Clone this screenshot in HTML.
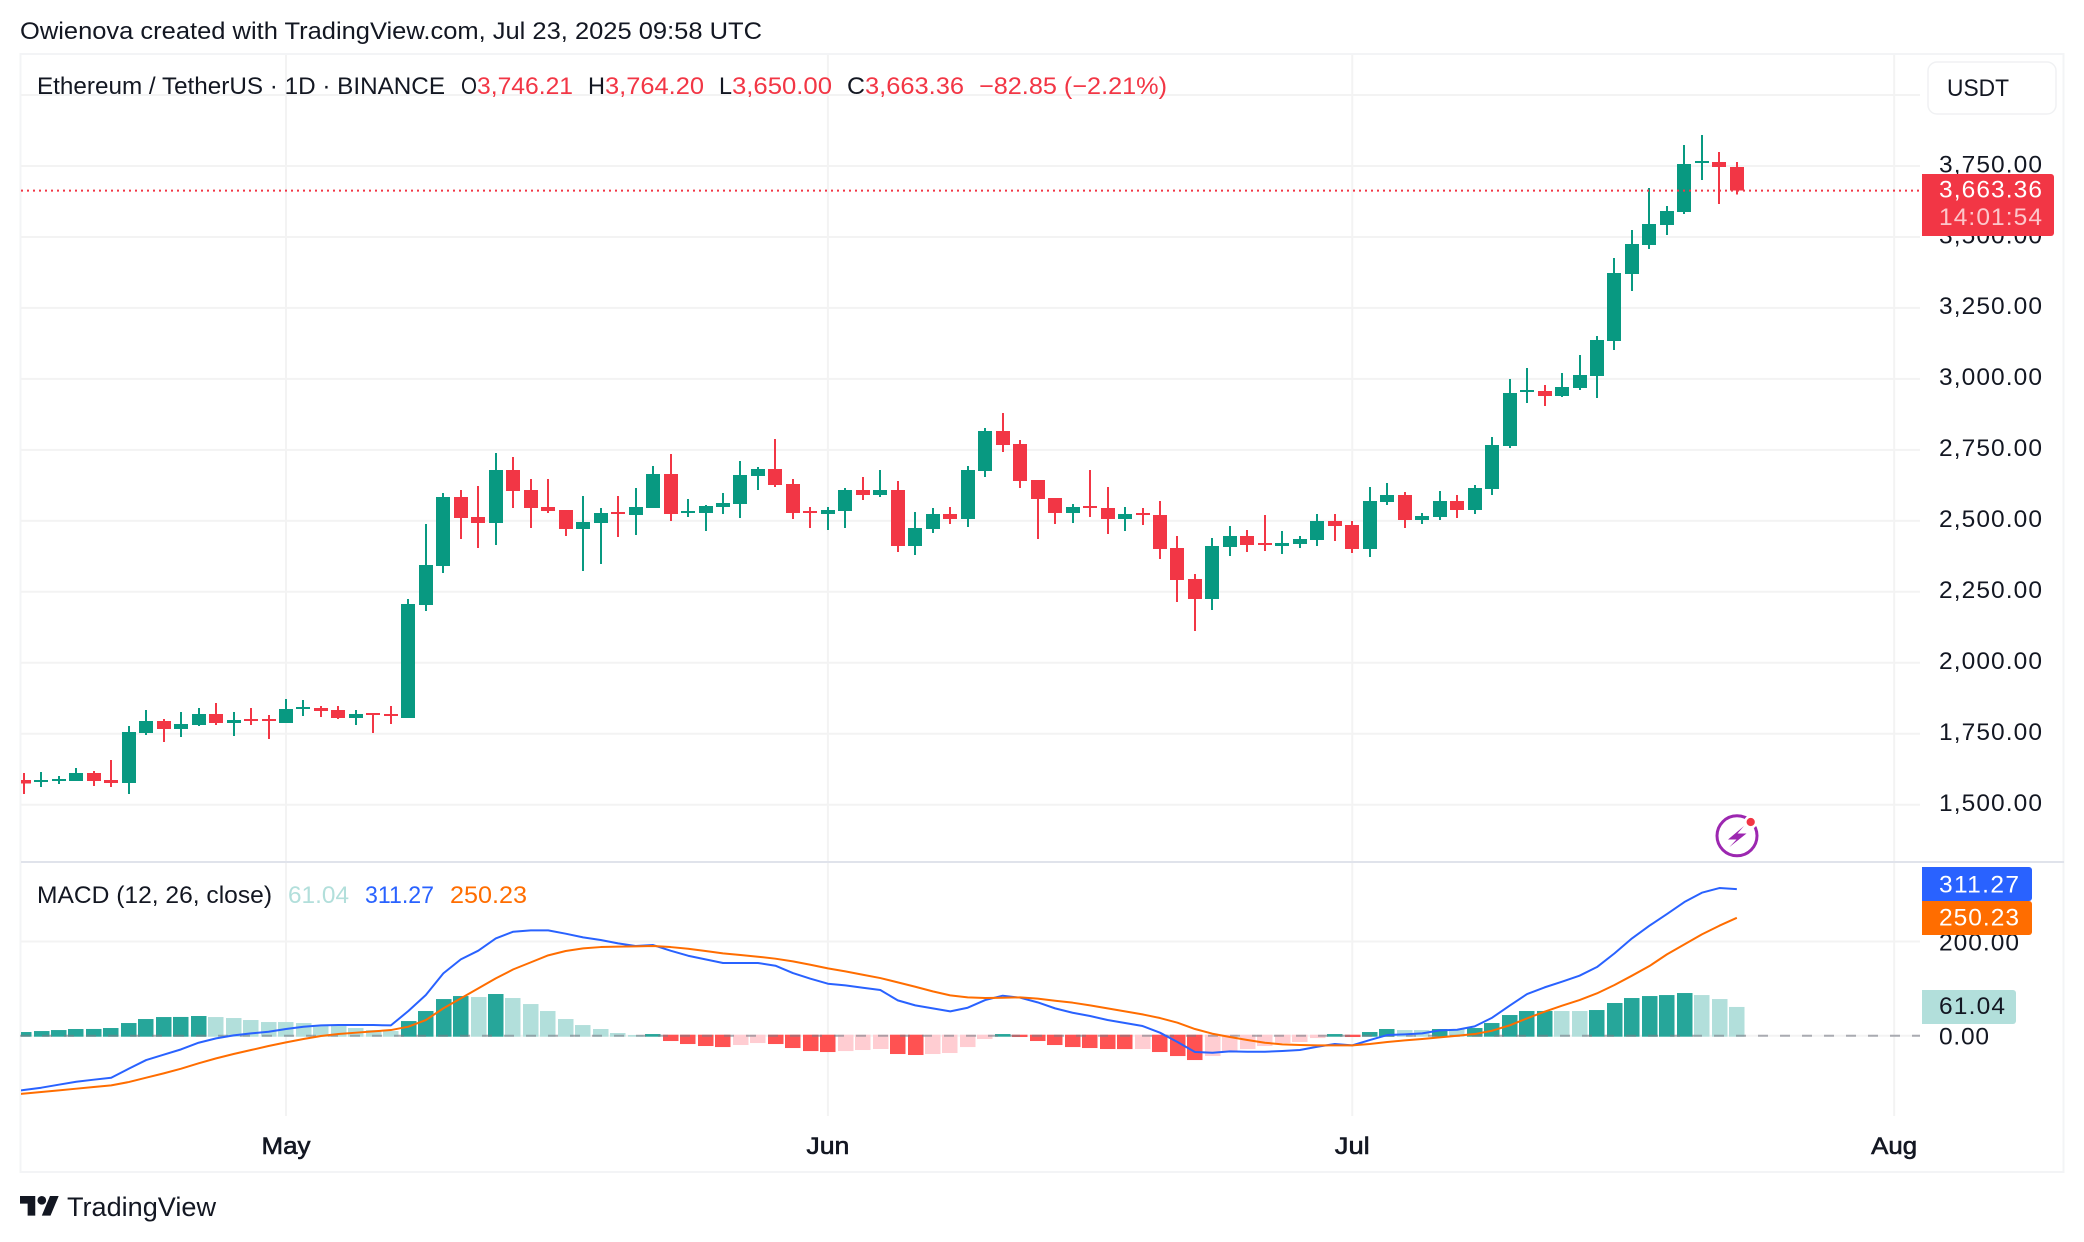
<!DOCTYPE html>
<html lang="en">
<head>
<meta charset="utf-8">
<title>ETH/USDT chart</title>
<style>
html,body{margin:0;padding:0;background:#fff;width:2084px;height:1242px;overflow:hidden}
svg{display:block}
text{font-family:"Liberation Sans",sans-serif;fill:#131722}
</style>
</head>
<body>
<svg id="chart" xmlns="http://www.w3.org/2000/svg" width="2084" height="1242" viewBox="0 0 2084 1242">
  <defs>
    <clipPath id="price-clip"><rect x="21" y="55" width="1899" height="806"/></clipPath>
    <clipPath id="macd-clip"><rect x="21" y="863" width="1899" height="252"/></clipPath>
  </defs>
  <rect x="0" y="0" width="2084" height="1242" fill="#ffffff"/>
  <text x="20" y="39" font-size="24.5" textLength="742" lengthAdjust="spacingAndGlyphs">Owienova created with TradingView.com, Jul 23, 2025 09:58 UTC</text>
  <rect x="20.5" y="54" width="2043" height="1118" fill="none" stroke="#f3f4f6" stroke-width="2"/>
  <g id="grid"></g>
  <rect x="21" y="861" width="2043" height="2" fill="#e0e3eb"/>
  <g id="candles" clip-path="url(#price-clip)"></g>
  <g id="price-line"></g>
  <g id="histogram" clip-path="url(#macd-clip)"></g>
  <g id="zero-line"></g>
  <g id="macd-lines" clip-path="url(#macd-clip)"></g>
  <g id="price-axis"></g>
  <g id="macd-axis"></g>
  <g id="time-axis"></g>

  <g font-size="24">
    <text x="37" y="94" textLength="408" lengthAdjust="spacingAndGlyphs">Ethereum / TetherUS · 1D · BINANCE</text>
    <text x="461" y="94" textLength="16" lengthAdjust="spacingAndGlyphs">O</text>
    <text x="477" y="94" textLength="96" lengthAdjust="spacingAndGlyphs" style="fill:#f23645">3,746.21</text>
    <text x="588" y="94" textLength="17" lengthAdjust="spacingAndGlyphs">H</text>
    <text x="605" y="94" textLength="99" lengthAdjust="spacingAndGlyphs" style="fill:#f23645">3,764.20</text>
    <text x="719" y="94" textLength="13" lengthAdjust="spacingAndGlyphs">L</text>
    <text x="732" y="94" textLength="100" lengthAdjust="spacingAndGlyphs" style="fill:#f23645">3,650.00</text>
    <text x="847" y="94" textLength="18" lengthAdjust="spacingAndGlyphs">C</text>
    <text x="865" y="94" textLength="99" lengthAdjust="spacingAndGlyphs" style="fill:#f23645">3,663.36</text>
    <text x="979" y="94" textLength="188" lengthAdjust="spacingAndGlyphs" style="fill:#f23645">−82.85 (−2.21%)</text>
  </g>

  <g>
    <rect x="1928" y="62" width="128" height="52" rx="9" fill="#ffffff" stroke="#f0f1f3" stroke-width="1.5"/>
    <text x="1947" y="96" font-size="24" textLength="62" lengthAdjust="spacingAndGlyphs">USDT</text>
  </g>

  <g font-size="24">
    <text x="37" y="903" textLength="235" lengthAdjust="spacingAndGlyphs">MACD (12, 26, close)</text>
    <text x="288" y="903" textLength="61" lengthAdjust="spacingAndGlyphs" style="fill:#b2dfdb">61.04</text>
    <text x="365" y="903" textLength="69" lengthAdjust="spacingAndGlyphs" style="fill:#2962ff">311.27</text>
    <text x="450" y="903" textLength="77" lengthAdjust="spacingAndGlyphs" style="fill:#ff6d00">250.23</text>
  </g>

  <g>
    <path d="M1922 174H2051a3 3 0 0 1 3 3V233a3 3 0 0 1-3 3H1922Z" fill="#f23645"/>
    <text x="1939" y="197.5" font-size="24.5" textLength="103" style="fill:#ffffff">3,663.36</text>
    <text x="1939" y="225" font-size="24.5" textLength="103" style="fill:#ffffff;fill-opacity:.72">14:01:54</text>
  </g>
  <g>
    <path d="M1922 867H2029a3 3 0 0 1 3 3V898a3 3 0 0 1-3 3H1922Z" fill="#2962ff"/>
    <text x="1939" y="892.7" font-size="24.5" textLength="80" style="fill:#ffffff">311.27</text>
    <path d="M1922 901H2029a3 3 0 0 1 3 3V932a3 3 0 0 1-3 3H1922Z" fill="#ff6d00"/>
    <text x="1939" y="925.7" font-size="24.5" textLength="80" style="fill:#ffffff">250.23</text>
    <path d="M1922 990H2013a3 3 0 0 1 3 3V1021a3 3 0 0 1-3 3H1922Z" fill="#b2dfdb"/>
    <text x="1939" y="1014" font-size="24.5" textLength="66">61.04</text>
  </g>

  <g>
    <circle cx="1737" cy="835.8" r="20" fill="#ffffff" stroke="#9c27b0" stroke-width="3"/>
    <path d="M1744 826L1728 839.5H1736.5L1729.5 847L1746.5 833.5H1737.5Z" fill="#9c27b0"/>
    <circle cx="1750.7" cy="822" r="5.4" fill="#f23645" stroke="#ffffff" stroke-width="2.5"/>
  </g>

  <g>
    <g transform="translate(20 1191.6) scale(1.09)" fill="#131722">
      <path d="M14 22H7V11H0V4h14v18zM28 22h-8l7.5-18h8L28 22z"/>
      <circle cx="20" cy="8" r="4"/>
    </g>
    <text x="67" y="1216" font-size="26.5" textLength="149" lengthAdjust="spacingAndGlyphs">TradingView</text>
  </g>
</svg>

<script>
const candleDates = [
'Apr 16','Apr 17','Apr 18','Apr 19','Apr 20','Apr 21','Apr 22','Apr 23','Apr 24','Apr 25','Apr 26','Apr 27','Apr 28','Apr 29','Apr 30',
'May 1','May 2','May 3','May 4','May 5','May 6','May 7','May 8','May 9','May 10','May 11','May 12','May 13','May 14','May 15','May 16','May 17','May 18','May 19','May 20','May 21','May 22','May 23','May 24','May 25','May 26','May 27','May 28','May 29','May 30','May 31',
'Jun 1','Jun 2','Jun 3','Jun 4','Jun 5','Jun 6','Jun 7','Jun 8','Jun 9','Jun 10','Jun 11','Jun 12','Jun 13','Jun 14','Jun 15','Jun 16','Jun 17','Jun 18','Jun 19','Jun 20','Jun 21','Jun 22','Jun 23','Jun 24','Jun 25','Jun 26','Jun 27','Jun 28','Jun 29','Jun 30',
'Jul 1','Jul 2','Jul 3','Jul 4','Jul 5','Jul 6','Jul 7','Jul 8','Jul 9','Jul 10','Jul 11','Jul 12','Jul 13','Jul 14','Jul 15','Jul 16','Jul 17','Jul 18','Jul 19','Jul 20','Jul 21','Jul 22','Jul 23'];

const opens = [1587,1580,1583,1583,1612,1587,1576,1753,1795,1767,1781,1820,1788,1802,1802,
1788,1837,1841,1834,1805,1823,1820,1805,2203,2341,2584,2513,2492,2679,2609,2549,2538,2471,2492,2531,2521,2545,2665,2528,2528,2549,2559,2658,2683,2630,2535,
2524,2535,2609,2591,2609,2411,2471,2524,2506,2676,2816,2771,2644,2580,2528,2552,2545,2506,2528,2521,2404,2295,2225,2408,2447,2422,2411,2418,2432,2499,
2485,2401,2566,2591,2503,2513,2570,2538,2612,2764,2954,2957,2940,2968,3010,3134,3370,3472,3542,3588,3762,3764,3746.21];

const highs = [1612,1615,1601,1629,1619,1657,1777,1834,1802,1827,1841,1858,1827,1841,1816,
1872,1869,1848,1848,1834,1823,1848,2225,2489,2598,2609,2623,2739,2725,2647,2647,2538,2587,2545,2587,2616,2693,2735,2577,2556,2598,2711,2690,2788,2647,2549,
2549,2616,2654,2679,2640,2531,2545,2549,2693,2827,2880,2785,2644,2580,2559,2679,2619,2549,2545,2570,2447,2313,2440,2482,2468,2521,2464,2447,2524,2524,
2499,2619,2633,2601,2527,2605,2591,2626,2795,3000,3038,2979,3021,3084,3151,3426,3525,3672,3609,3824,3859,3799,3764.20];

const lows = [1538,1562,1573,1583,1566,1562,1538,1745,1721,1738,1777,1781,1742,1781,1731,
1788,1812,1809,1802,1781,1753,1784,1805,2182,2316,2436,2404,2415,2545,2475,2528,2447,2323,2348,2443,2450,2545,2499,2513,2464,2524,2510,2609,2619,2506,2475,
2468,2475,2573,2584,2390,2380,2457,2489,2478,2654,2743,2616,2436,2489,2492,2514,2454,2464,2485,2366,2214,2112,2186,2376,2390,2394,2383,2404,2411,2429,
2387,2373,2556,2475,2489,2503,2510,2524,2591,2757,2915,2905,2936,2961,2933,3102,3310,3458,3507,3581,3701,3616,3650.00];

const closes = [1574,1587,1591,1612,1583,1576,1756,1795,1767,1784,1820,1788,1798,1795,1795,
1837,1844,1830,1805,1820,1816,1812,2207,2344,2584,2510,2492,2679,2605,2545,2535,2471,2496,2528,2524,2549,2665,2524,2535,2552,2563,2661,2683,2626,2528,2528,
2538,2609,2591,2609,2411,2475,2524,2506,2679,2816,2767,2640,2577,2528,2549,2545,2506,2524,2521,2401,2292,2225,2411,2447,2415,2415,2422,2436,2499,2482,
2401,2570,2591,2503,2517,2570,2538,2616,2767,2950,2961,2940,2971,3014,3137,3373,3475,3546,3591,3757,3768,3746.21,3663.36];

const histValues = [7.8,9.9,12,14.2,14.3,16.3,26.9,35.4,39.6,39.8,41.8,39.6,37.5,33.3,29,
29,26.9,22.6,22.6,16.3,12,9.9,31.1,52.4,77.8,84.2,82.1,88.5,80,67.2,52.4,35.4,22.6,14.2,5.7,1.4,3.5,-11.3,-17.7,-21.9,-24.1,-19.8,-15.6,-17.7,-26.2,-32.6,
-34.7,-32.6,-30.4,-28.3,-38.9,-41,-38.9,-36.8,-24.1,-7.1,3.5,-2.8,-11.3,-19.8,-24.1,-26.2,-28.3,-28.4,-28.3,-34.7,-43.2,-51.7,-43.2,-34.7,-28.3,-21.9,-15.6,-13.4,-5,3.5,
-2.8,7.8,14.2,12,12,14.2,14.2,16.3,26.9,43.9,52.4,52.5,52.4,52.4,54.5,69.4,80,84.2,86.3,90.6,86.3,77.8,61.04];

const macdValues = [-115.4,-110.4,-104,-97.7,-93.4,-89.2,-70.1,-51.7,-40.3,-29,-14.9,-5.7,0.7,5,8.5,
14.2,19.1,21.9,22.6,22.6,22.6,21.9,52.4,86.3,132.3,162.1,180.5,206.6,220.8,223.6,223.6,216.6,208.8,203.1,196,190.4,192.5,180.5,169.8,162.1,154.3,154.3,154.3,148.6,133,121,
110.4,106.9,101.9,97,75,64.4,58,51.7,59.4,75.7,84.9,80.7,70.8,58,48.8,41.8,33.3,26.9,20.5,6.4,-13.4,-34.7,-36.1,-33.3,-34,-34,-32.6,-30.4,-23.4,-17.7,
-20.5,-9.2,1.4,2.8,5,11.3,12.7,19.8,38.2,63.7,88.5,102.6,114.6,127.4,145.8,174.8,206.6,233.5,258.3,283.8,303.6,313.5,311.27];

const signalValues = [-123.1,-119.6,-116.1,-112.5,-109,-105.4,-98.4,-89.2,-80,-70.1,-58.7,-48.1,-38.9,-30.4,-21.9,
-14.2,-7.1,-0.7,3.5,6.4,9.2,12,19.1,33.3,58,79.3,100.5,121.7,140.8,155.7,170.6,179.8,185.4,188.2,189,189.7,190.4,188.2,184.7,179.8,174.8,171.3,167.7,163.5,157.8,150.7,
143,136.6,129.5,122.4,113.2,104,94.1,85.6,81.4,80,80.7,81.4,78.6,74.3,70.1,64.4,58,51.7,45.3,37.5,27.6,14.2,4.2,-2.8,-9.2,-14.9,-18.4,-19.8,-20.5,-20.5,
-20.5,-17.7,-13.4,-9.9,-7.1,-3.5,0,3.5,10.6,21.9,36.8,51,63.7,75.7,89.9,107.6,127.4,147.9,172.7,193.9,215.1,233.5,250.23];

const macdBeforeFirst = -120;
const signalBeforeFirst = -126;

const priceGridValues = [4000,3750,3500,3250,3000,2750,2500,2250,2000,1750,1500];
const priceTickValues = [3750,3500,3250,3000,2750,2500,2250,2000,1750,1500];
const priceTickLabels = ['3,750.00','3,500.00','3,250.00','3,000.00','2,750.00','2,500.00','2,250.00','2,000.00','1,750.00','1,500.00'];
const macdGridValues = [200,0];
const macdTickValues = [200,0];
const macdTickLabels = ['200.00','0.00'];
const monthTickLabels = ['May','Jun','Jul','Aug'];
const monthTickIndexes = [15,46,76,107];

const SVGNS = 'http://www.w3.org/2000/svg';
function xAt(i){ return 286 + (i - 15) * 17.48; }
function yPrice(v){ return 166 + (3750 - v) * 0.28387; }
function yMacd(v){ return 1035.7 - v * 0.471; }
function make(tag, attrs, parent){
  const n = document.createElementNS(SVGNS, tag);
  for (const k in attrs) n.setAttribute(k, attrs[k]);
  parent.appendChild(n);
  return n;
}
const gridG = document.getElementById('grid');
const GRID = '#f3f3f3';

priceGridValues.forEach(function(v){
  const el = make('rect', {x:21, y:yPrice(v)-1, width:1899, height:2, fill:GRID}, gridG);
  
  
});
macdGridValues.forEach(function(v){
  const el = make('rect', {x:21, y:yMacd(v)-1, width:1899, height:2, fill:GRID}, gridG);
  
  
});
monthTickIndexes.forEach(function(i){
  const el = make('rect', {x:xAt(i)-1, y:55, width:2, height:1061, fill:GRID}, gridG);
  
  
});

const candlesG = document.getElementById('candles');
candleDates.forEach(function(date, i){
  const up = closes[i] >= opens[i];
  const color = up ? '#089981' : '#f23645';
  const cx = xAt(i);
  const top = yPrice(Math.max(opens[i], closes[i]));
  const bottom = yPrice(Math.min(opens[i], closes[i]));
  const g = make('g', {}, candlesG);
  
  
  const wick = make('rect', {x:Math.round(cx-1), y:yPrice(highs[i]), width:2, height:Math.max(yPrice(lows[i])-yPrice(highs[i]),1), fill:color, 'shape-rendering':'crispEdges'}, g);
  
  
  const body = make('rect', {x:Math.round(cx-7), y:top, width:14, height:Math.max(bottom-top,2), fill:color, 'shape-rendering':'crispEdges'}, g);
  
  
});

const lastClose = closes[closes.length-1];
const priceLineEl = make('line', {x1:21, x2:1920, y1:yPrice(lastClose), y2:yPrice(lastClose), stroke:'#f23645', 'stroke-width':2, 'stroke-dasharray':'2 4'}, document.getElementById('price-line'));



const histG = document.getElementById('histogram');
histValues.forEach(function(v, i){
  const prev = i > 0 ? histValues[i-1] : 0;
  let color;
  if (v >= 0) color = v > prev ? '#26a69a' : '#b2dfdb';
  else color = v < prev ? '#ff5252' : '#ffcdd2';
  const cx = xAt(i);
  const y0 = yMacd(0);
  const yv = yMacd(v);
  const top = v >= 0 ? yv : y0 - 1;
  const bottom = v >= 0 ? y0 + 1 : yv;
  const bar = make('rect', {x:Math.round(cx-7.75), y:top, width:15.5, height:Math.max(bottom-top,1), fill:color}, histG);
  
  
});

const zeroEl = make('line', {x1:20, x2:1920, y1:yMacd(0), y2:yMacd(0), stroke:'#787b86', 'stroke-opacity':0.6, 'stroke-width':2, 'stroke-dasharray':'10 12'}, document.getElementById('zero-line'));



const linesG = document.getElementById('macd-lines');
function pointsOf(values, before){
  const head = xAt(-1).toFixed(2) + ',' + yMacd(before).toFixed(2) + ' ';
  return head + values.map(function(v, i){ return xAt(i).toFixed(2) + ',' + yMacd(v).toFixed(2); }).join(' ');
}
const macdLineEl = make('polyline', {points:pointsOf(macdValues, macdBeforeFirst), fill:'none', stroke:'#2962ff', 'stroke-width':2, 'stroke-linejoin':'round'}, linesG);


const signalLineEl = make('polyline', {points:pointsOf(signalValues, signalBeforeFirst), fill:'none', stroke:'#ff6d00', 'stroke-width':2, 'stroke-linejoin':'round'}, linesG);



const priceAxisG = document.getElementById('price-axis');
priceTickValues.forEach(function(v, i){
  const t = make('text', {x:1939, y:yPrice(v)+6.3, 'font-size':24.5, textLength:103}, priceAxisG);
  
  
  t.textContent = priceTickLabels[i];
});
const macdAxisG = document.getElementById('macd-axis');
macdTickValues.forEach(function(v, i){
  const t = make('text', {x:1939, y:yMacd(v)+8.8, 'font-size':24.5, textLength:macdTickLabels[i].length === 4 ? 50 : 80}, macdAxisG);
  
  
  t.textContent = macdTickLabels[i];
});
const timeAxisG = document.getElementById('time-axis');
const monthWidths = {May:49, Jun:43, Jul:35, Aug:46};
monthTickLabels.forEach(function(label, i){
  const w = monthWidths[label];
  const t = make('text', {x:xAt(monthTickIndexes[i])-w/2, y:1154, 'font-size':24, stroke:'#131722', 'stroke-width':0.6, textLength:w, lengthAdjust:'spacingAndGlyphs'}, timeAxisG);
  
  
  t.textContent = label;
});
</script>
</body>
</html>
